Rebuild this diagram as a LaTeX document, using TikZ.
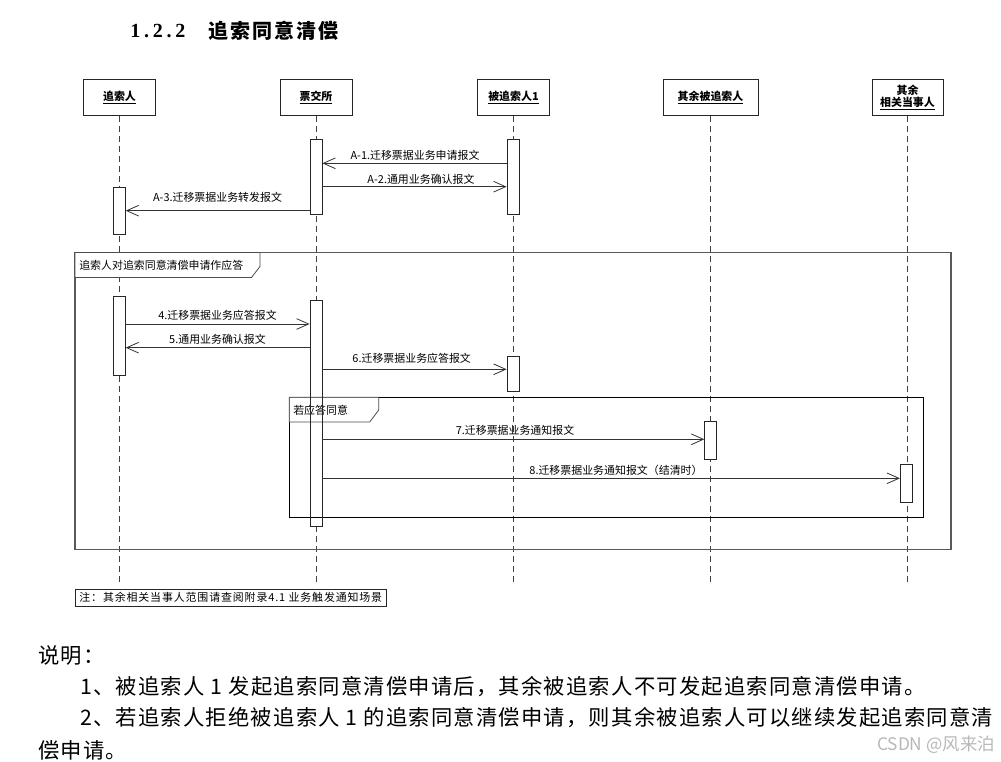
\documentclass[tikz,border=0pt]{standalone}
\usepackage{fontspec}
\setmainfont{Liberation Serif}
\newfontfamily\cjk{Noto Sans CJK SC}
\newfontfamily\cjksp[LetterSpace=10]{Noto Sans CJK SC}
\newfontfamily\cjkbody[LetterSpace=5.6]{Noto Sans CJK SC}
\newfontfamily\cjknote[LetterSpace=8]{Noto Sans CJK SC}
\usetikzlibrary{arrows.meta}
\tikzset{
  head/.style={draw=black!85, line width=0.75pt, fill=white, minimum height=27pt, inner sep=0pt,
    align=center, font=\cjk\fontsize{8.2}{9.5}\selectfont\bfseries},
  life/.style={draw=black!75, line width=0.6pt, dash pattern=on 4.5pt off 3pt},
  bar/.style={draw=black!85, fill=white, line width=0.6pt, inner sep=0pt, minimum width=9pt},
  barline/.style={draw=black!85, line width=0.6pt, inner sep=0pt, minimum width=9pt},
  msg/.style={draw=black!80, line width=0.6pt, -{Straight Barb[length=9pt,width=8pt]}},
  lbl/.style={font=\cjk\fontsize{8.2}{9}\selectfont, inner sep=0pt},
  frameo/.style={draw=black!65, line width=0.8pt},
  framei/.style={draw=black, line width=0.75pt},
  tab/.style={draw=black!70, fill=white, line width=0.6pt},
  body/.style={font=\cjkbody\fontsize{16}{18}\selectfont, inner sep=0pt, anchor=west}
}
\begin{document}
\begin{tikzpicture}[x=0.75pt,y=-0.75pt]
\path[use as bounding box, fill=white] (0,0) rectangle (1001,762);

% title
\node[inner sep=0pt, anchor=west] (tnum) at (130,31)
  {\fontsize{15}{18}\selectfont\bfseries\hbox to 41.25pt{1\hfil.\hfil2\hfil.\hfil2}};
\node[inner sep=0pt, anchor=west] (ttxt) at (208,31)
  {\cjksp\fontsize{15}{18}\selectfont\bfseries 追索同意清偿};

% heads
\node[head, minimum width=54pt] (h1) at (119.5,97.5) {\underline{追索人}};
\node[head, minimum width=54pt] (h2) at (316,97.5) {\underline{票交所}};
\node[head, minimum width=54pt] (h3) at (513.5,97.5) {\underline{被追索人1}};
\node[head, minimum width=71.25pt] (h4) at (710.5,97.5) {\underline{其余被追索人}};
\node[head, minimum width=53.25pt] (h5) at (907.5,97.5) {其余\\\underline{相关当事人}};

% lifeline ends
\coordinate (e1) at (119.5,582);
\coordinate (e2) at (316,582);
\coordinate (e3) at (513.5,582);
\coordinate (e4) at (710.5,582);
\coordinate (e5) at (907.5,582);
\draw[life] (h1.south) -- (e1);
\draw[life] (h2.south) -- (e2);
\draw[life] (h3.south) -- (e3);
\draw[life] (h4.south) -- (e4);
\draw[life] (h5.south) -- (e5);

% outer frame
\draw[frameo] (75,252.5) rectangle (951,549.5);
\draw[tab] (75,252.5) -- (260,252.5) -- (260,266.5) -- (251.5,277.5) -- (75,277.5) -- cycle;
\node[lbl, anchor=west] (ftab1) at (79,265) {追索人对追索同意清偿申请作应答};

% activation bars
\node[bar, minimum height=56.25pt] (pA) at (316,176.8) {};
\node[bar, minimum height=56.25pt] (bA) at (513,176.8) {};
\node[bar, minimum height=35pt] (zA) at (119.3,210.65) {};
\node[bar, minimum height=59.25pt] (zB) at (119.3,336.2) {};
\node[bar, minimum height=169pt] (pB) at (316,413.35) {};
\node[bar, minimum height=26.25pt] (bB) at (513,373.5) {};
\node[bar, minimum height=28.5pt] (oB) at (710.7,440) {};
\node[bar, minimum height=28.35pt] (rB) at (906.3,483.4) {};

% inner frame
\draw[framei] (289.3,397.3) rectangle (923.5,517.8);
\draw[tab] (289.3,397.3) -- (378.7,397.3) -- (378.7,410) -- (369.7,422) -- (289.3,422) -- cycle;
\node[lbl, anchor=west] (ftab2) at (293,410) {若应答同意};
\node[barline, minimum height=169pt] (pBo) at (316,413.35) {};

% message levels
\coordinate (y1) at (0,163.3);
\coordinate (y2) at (0,186.7);
\coordinate (y3) at (0,210.7);
\coordinate (y4) at (0,324);
\coordinate (y5) at (0,347.7);
\coordinate (y6) at (0,369.3);
\coordinate (y7) at (0,439.3);
\coordinate (y8) at (0,478.3);

\draw[msg] (bA.west |- y1) -- (pA.east |- y1);
\draw[msg] (pA.east |- y2) -- (bA.west |- y2);
\draw[msg] (pA.west |- y3) -- (zA.east |- y3);
\draw[msg] (zB.east |- y4) -- (pB.west |- y4);
\draw[msg] (pB.west |- y5) -- (zB.east |- y5);
\draw[msg] (pB.east |- y6) -- (bB.west |- y6);
\draw[msg] (pB.east |- y7) -- (oB.west |- y7);
\draw[msg] (pB.east |- y8) -- (rB.west |- y8);

\node[lbl] (l1) at (415,155) {A-1.迁移票据业务申请报文};
\node[lbl] (l2) at (421,179) {A-2.通用业务确认报文};
\node[lbl] (l3) at (217.5,197) {A-3.迁移票据业务转发报文};
\node[lbl] (l4) at (217.5,315.5) {4.迁移票据业务应答报文};
\node[lbl] (l5) at (217.5,339.3) {5.通用业务确认报文};
\node[lbl] (l6) at (411.7,358.5) {6.迁移票据业务应答报文};
\node[lbl] (l7) at (515,430.5) {7.迁移票据业务通知报文};
\node[lbl] (l8) at (616,470.5) {8.迁移票据业务通知报文（结清时）};

% note
\node[draw=black!85, line width=0.6pt, inner sep=0pt, inner xsep=3pt, minimum height=12.75pt, anchor=west,
  font=\cjknote\fontsize{8.2}{9}\selectfont] (note) at (75,597.5)
  {注：其余相关当事人范围请查阅附录4.1 业务触发通知场景};

% explanation
\node[body] (s0) at (38,655) {说明：};
\node[body] (s1) at (80,687) {1、被追索人 1 发起追索同意清偿申请后，其余被追索人不可发起追索同意清偿申请。};
\node[body] (s2) at (80,718) {2、若追索人拒绝被追索人 1 的追索同意清偿申请，则其余被追索人可以继续发起追索同意清};
\node[body] (s3) at (38,750) {偿申请。};

\node[font=\cjk\fontsize{13}{15}\selectfont, text=black!28, inner sep=0pt, anchor=east] (wm) at (995,745) {CSDN @风来泊};
\end{tikzpicture}
\end{document}
